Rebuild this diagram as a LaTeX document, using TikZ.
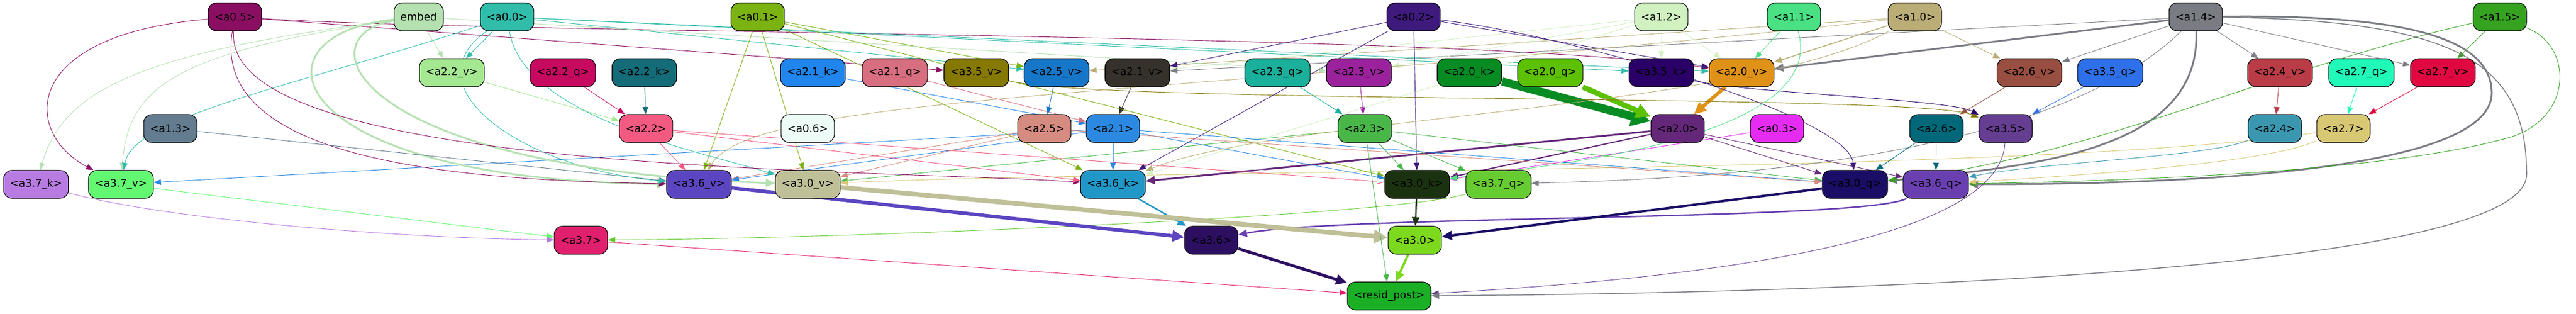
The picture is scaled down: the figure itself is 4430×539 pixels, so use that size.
\documentclass[tikz,border=0pt]{standalone}
\usepackage{fontspec}
\setmainfont{DejaVu Sans}
\usetikzlibrary{arrows.meta,backgrounds}

\definecolor{ca05}{HTML}{8A0F62}
\definecolor{cembed}{HTML}{B5E1B1}
\definecolor{ca00}{HTML}{30BEAB}
\definecolor{ca01}{HTML}{7BB313}
\definecolor{ca02}{HTML}{3F1A7D}
\definecolor{ca12}{HTML}{D1F1C1}
\definecolor{ca11}{HTML}{49E183}
\definecolor{ca10}{HTML}{BBAD76}
\definecolor{ca14}{HTML}{7A7C84}
\definecolor{ca15}{HTML}{35A320}
\definecolor{ca22v}{HTML}{A4E891}
\definecolor{ca22q}{HTML}{C70A60}
\definecolor{ca22k}{HTML}{146C79}
\definecolor{ca21k}{HTML}{2185EE}
\definecolor{ca21q}{HTML}{D86F80}
\definecolor{ca35v}{HTML}{857902}
\definecolor{ca25v}{HTML}{1677C8}
\definecolor{ca21v}{HTML}{36312A}
\definecolor{ca23q}{HTML}{1AB09C}
\definecolor{ca23v}{HTML}{9B229C}
\definecolor{ca20k}{HTML}{068C23}
\definecolor{ca20q}{HTML}{5BC102}
\definecolor{ca35k}{HTML}{2A0068}
\definecolor{ca20v}{HTML}{DF9217}
\definecolor{ca26v}{HTML}{984E40}
\definecolor{ca35q}{HTML}{2E70E9}
\definecolor{ca24v}{HTML}{B93C46}
\definecolor{ca27q}{HTML}{21F9B9}
\definecolor{ca27v}{HTML}{E10841}
\definecolor{ca13}{HTML}{637C8F}
\definecolor{ca22}{HTML}{F35A82}
\definecolor{ca06}{HTML}{EEFCF8}
\definecolor{ca25}{HTML}{D68B80}
\definecolor{ca21}{HTML}{2B89E1}
\definecolor{ca23}{HTML}{48B748}
\definecolor{ca20}{HTML}{642779}
\definecolor{ca03}{HTML}{E62CF2}
\definecolor{ca26}{HTML}{006879}
\definecolor{ca35}{HTML}{653D91}
\definecolor{ca24}{HTML}{3B97B0}
\definecolor{ca27}{HTML}{D8C873}
\definecolor{ca37k}{HTML}{B87BE1}
\definecolor{ca37v}{HTML}{63F872}
\definecolor{ca36v}{HTML}{5C45C1}
\definecolor{ca30v}{HTML}{BFBF98}
\definecolor{ca36k}{HTML}{2197C8}
\definecolor{ca30k}{HTML}{1B3210}
\definecolor{ca37q}{HTML}{67CC31}
\definecolor{ca30q}{HTML}{190D66}
\definecolor{ca36q}{HTML}{6A40B1}
\definecolor{ca37}{HTML}{E1206D}
\definecolor{ca36}{HTML}{2D0F62}
\definecolor{ca30}{HTML}{7CD91D}
\definecolor{cresid}{HTML}{1AAF25}

\begin{document}
\begin{tikzpicture}[x=1pt, y=-1pt,
    headbox/.style={draw=black, line width=1.1pt, rounded corners=14pt,
      minimum height=48pt, inner xsep=11pt, text=black,
      font=\fontsize{18}{20}\selectfont},
    wire/.style={line width=0.9pt, -{Triangle[length=11pt 1.6, width=8pt 1.8]}}]
    \useasboundingbox (0,0) rectangle (4430,539);

    \draw
    (404, 29) node[headbox, fill=ca05](a05){<a0.5>}
    (720, 29) node[headbox, fill=cembed](embed){embed}
    (872, 29) node[headbox, fill=ca00](a00){<a0.0>}
    (1303, 29) node[headbox, fill=ca01](a01){<a0.1>}
    (2431, 29) node[headbox, fill=ca02](a02){<a0.2>}
    (2857, 29) node[headbox, fill=ca12](a12){<a1.2>}
    (3085, 29) node[headbox, fill=ca11](a11){<a1.1>}
    (3293, 29) node[headbox, fill=ca10](a10){<a1.0>}
    (3776, 29) node[headbox, fill=ca14](a14){<a1.4>}
    (4299, 29) node[headbox, fill=ca15](a15){<a1.5>}

    (777, 125) node[headbox, fill=ca22v](a22v){<a2.2\_v>}
    (968, 125) node[headbox, fill=ca22q](a22q){<a2.2\_q>}
    (1108, 125) node[headbox, fill=ca22k](a22k){<a2.2\_k>}
    (1398, 125) node[headbox, fill=ca21k](a21k){<a2.1\_k>}
    (1539, 125) node[headbox, fill=ca21q](a21q){<a2.1\_q>}
    (1679, 125) node[headbox, fill=ca35v](a35v){<a3.5\_v>}
    (1817, 125) node[headbox, fill=ca25v](a25v){<a2.5\_v>}
    (1956, 125) node[headbox, fill=ca21v](a21v){<a2.1\_v>}
    (2197, 125) node[headbox, fill=ca23q](a23q){<a2.3\_q>}
    (2337, 125) node[headbox, fill=ca23v](a23v){<a2.3\_v>}
    (2527, 125) node[headbox, fill=ca20k](a20k){<a2.0\_k>}
    (2666, 125) node[headbox, fill=ca20q](a20q){<a2.0\_q>}
    (2857, 125) node[headbox, fill=ca35k](a35k){<a3.5\_k>}
    (2995, 125) node[headbox, fill=ca20v](a20v){<a2.0\_v>}
    (3490, 125) node[headbox, fill=ca26v](a26v){<a2.6\_v>}
    (3629, 125) node[headbox, fill=ca35q](a35q){<a3.5\_q>}
    (3921, 125) node[headbox, fill=ca24v](a24v){<a2.4\_v>}
    (4061, 125) node[headbox, fill=ca27q](a27q){<a2.7\_q>}
    (4201, 125) node[headbox, fill=ca27v](a27v){<a2.7\_v>}

    (293, 221) node[headbox, fill=ca13](a13){<a1.3>}
    (1111, 221) node[headbox, fill=ca22](a22){<a2.2>}
    (1389, 221) node[headbox, fill=ca06](a06){<a0.6>}
    (1796, 221) node[headbox, fill=ca25](a25){<a2.5>}
    (1914, 221) node[headbox, fill=ca21](a21){<a2.1>}
    (2347, 221) node[headbox, fill=ca23](a23){<a2.3>}
    (2885, 221) node[headbox, fill=ca20](a20){<a2.0>}
    (3056, 221) node[headbox, fill=ca03](a03){<a0.3>}
    (3330, 221) node[headbox, fill=ca26](a26){<a2.6>}
    (3449, 221) node[headbox, fill=ca35](a35){<a3.5>}
    (3912, 221) node[headbox, fill=ca24](a24){<a2.4>}
    (4030, 221) node[headbox, fill=ca27](a27){<a2.7>}

    (62, 317) node[headbox, fill=ca37k](a37k){<a3.7\_k>}
    (208, 317) node[headbox, fill=ca37v](a37v){<a3.7\_v>}
    (1202, 317) node[headbox, fill=ca36v](a36v){<a3.6\_v>}
    (1389, 317) node[headbox, fill=ca30v](a30v){<a3.0\_v>}
    (1914, 317) node[headbox, fill=ca36k](a36k){<a3.6\_k>}
    (2437, 317) node[headbox, fill=ca30k](a30k){<a3.0\_k>}
    (2577, 317) node[headbox, fill=ca37q](a37q){<a3.7\_q>}
    (3190, 317) node[headbox, fill=ca30q](a30q){<a3.0\_q>}
    (3329, 317) node[headbox, fill=ca36q](a36q){<a3.6\_q>}

    (999, 413) node[headbox, fill=ca37](a37){<a3.7>}
    (2083, 413) node[headbox, fill=ca36](a36){<a3.6>}
    (2433, 413) node[headbox, fill=ca30](a30){<a3.0>}

    (2389, 509) node[headbox, fill=cresid](resid){<resid\_post>};

    \begin{pgfonlayer}{background}
    % first row into second row
    \draw[wire, cembed] (embed) -- (a22v);
    \draw[wire, ca00] (a00) -- (a22v);
    \draw[wire, ca05] (a05) -- (a35v);
    \draw[wire, ca05] (a05) .. controls (900,60) and (2500,55) .. (a20v);
    \draw[wire, ca00] (a00) -- (a25v);
    \draw[wire, ca01] (a01) -- (a25v);
    \draw[wire, ca10] (a10) -- (a25v);
    \draw[wire, ca12] (a12) -- (a21v);
    \draw[wire, ca02] (a02) -- (a21v);
    \draw[wire, ca14] (a14) -- (a21v);
    \draw[wire, cembed] (embed) -- (a23v);
    \draw[wire, ca12] (a12) -- (a23v);
    \draw[wire, ca00] (a00) -- (a35k);
    \draw[wire, ca12] (a12) -- (a35k);
    \draw[wire, ca00] (a00) -- (a20v);
    \draw[wire, ca02] (a02) -- (a20v);
    \draw[wire, ca12] (a12) -- (a20v);
    \draw[wire, ca11] (a11) -- (a20v);
    \draw[wire, ca10, line width=1.5pt] (a10) -- (a20v);
    \draw[wire, ca14, line width=3pt] (a14) -- (a20v);
    \draw[wire, ca10] (a10) -- (a26v);
    \draw[wire, ca14] (a14) -- (a26v);
    \draw[wire, ca14] (a14) -- (a24v);
    \draw[wire, ca14] (a14) -- (a27v);
    \draw[wire, ca15] (a15) -- (a27v);

    % second row into heads of layer 2
    \draw[wire, ca22v] (a22v) -- (a22);
    \draw[wire, ca22q] (a22q) -- (a22);
    \draw[wire, ca22k] (a22k) -- (a22);
    \draw[wire, ca21k] (a21k) -- (a21);
    \draw[wire, ca21q] (a21q) -- (a21);
    \draw[wire, ca21v] (a21v) -- (a21);
    \draw[wire, ca25v] (a25v) -- (a25);
    \draw[wire, ca23q] (a23q) -- (a23);
    \draw[wire, ca23v] (a23v) -- (a23);
    \draw[wire, ca20k, line width=14pt] (a20k) -- (a20);
    \draw[wire, ca20q, line width=9pt] (a20q) -- (a20);
    \draw[wire, ca20v, line width=6pt] (a20v) -- (a20);
    \draw[wire, ca26v] (a26v) -- (a26);
    \draw[wire, ca35v] (a35v) .. controls (1900,180) and (3300,160) .. (a35);
    \draw[wire, ca35q] (a35q) -- (a35);
    \draw[wire, ca35k] (a35k) .. controls (3000,160) and (3350,170) .. (a35);
    \draw[wire, ca24v] (a24v) -- (a24);
    \draw[wire, ca27q] (a27q) -- (a27);
    \draw[wire, ca27v] (a27v) -- (a27);

    % into inputs of layer 3
    \draw[wire, cembed] (embed) .. controls (250,90) and (110,150) .. (a37k);
    \draw[wire, cembed] (embed) .. controls (300,90) and (220,150) .. (a37v);
    \draw[wire, ca05] (a05) .. controls (30,60) and (40,230) .. (a37v);
    \draw[wire, ca00] (a00) .. controls (500,150) and (230,200) .. (a37v);
    \draw[wire, ca21] (a21) -- (a37v);
    \draw[wire, cembed, line width=3pt] (embed) .. controls (420,60) and (480,310) .. (a36v);
    \draw[wire, ca05] (a05) .. controls (360,280) and (800,310) .. (a36v);
    \draw[wire, ca13] (a13) -- (a36v);
    \draw[wire, ca00] (a00) .. controls (700,150) and (900,290) .. (a36v);
    \draw[wire, ca22] (a22) -- (a36v);
    \draw[wire, ca01] (a01) -- (a36v);
    \draw[wire, ca10] (a10) .. controls (2000,170) and (1300,160) .. (a36v);
    \draw[wire, ca25] (a25) -- (a36v);
    \draw[wire, ca21] (a21) -- (a36v);
    \draw[wire, cembed, line width=3pt] (embed) .. controls (520,60) and (600,290) .. (a30v);
    \draw[wire, ca00] (a00) .. controls (900,200) and (1200,260) .. (a30v);
    \draw[wire, ca01] (a01) -- (a30v);
    \draw[wire, ca06] (a06) -- (a30v);
    \draw[wire, ca25] (a25) -- (a30v);
    \draw[wire, ca23] (a23) -- (a30v);
    \draw[wire, ca27] (a27) .. controls (3500,300) and (2000,290) .. (a30v);
    \draw[wire, ca21] (a21) -- (a36k);
    \draw[wire, ca02] (a02) -- (a36k);
    \draw[wire, ca10] (a10) .. controls (3000,190) and (2200,200) .. (a36k);
    \draw[wire, ca01] (a01) -- (a36k);
    \draw[wire, ca05] (a05) .. controls (380,300) and (1500,290) .. (a36k);
    \draw[wire, ca22] (a22) -- (a36k);
    \draw[wire, ca12] (a12) -- (a36k);
    \draw[wire, ca20, line width=3pt] (a20) -- (a36k);
    \draw[wire, ca01] (a01) -- (a30k);
    \draw[wire, ca23] (a23) -- (a30k);
    \draw[wire, ca02] (a02) -- (a30k);
    \draw[wire, ca03] (a03) -- (a30k);
    \draw[wire, ca21] (a21) -- (a30k);
    \draw[wire, ca22] (a22) -- (a30k);
    \draw[wire, ca06] (a06) -- (a30k);
    \draw[wire, ca20, line width=2pt] (a20) -- (a30k);
    \draw[wire, ca11] (a11) .. controls (3150,250) and (2600,290) .. (a30k);
    \draw[wire, ca23] (a23) -- (a37q);
    \draw[wire, ca14] (a14) .. controls (3500,300) and (2800,310) .. (a37q);
    \draw[wire, ca02] (a02) .. controls (2700,60) and (3180,200) .. (a30q);
    \draw[wire, ca26] (a26) -- (a30q);
    \draw[wire, ca20] (a20) -- (a30q);
    \draw[wire, ca23] (a23) -- (a30q);
    \draw[wire, ca21] (a21) -- (a30q);
    \draw[wire, ca25] (a25) -- (a30q);
    \draw[wire, ca14, line width=3pt] (a14) .. controls (3785,260) and (3500,285) .. (a30q);
    \draw[wire, ca15] (a15) .. controls (3900,120) and (3600,270) .. (a30q);
    \draw[wire, ca26] (a26) -- (a36q);
    \draw[wire, ca20] (a20) -- (a36q);
    \draw[wire, ca24] (a24) .. controls (3800,270) and (3500,280) .. (a36q);
    \draw[wire, ca14, line width=3pt] (a14) .. controls (4120,25) and (4285,60) .. (4285,160)
      .. controls (4285,290) and (3800,317) .. (a36q);
    \draw[wire, ca15] (a15) .. controls (4425,80) and (4425,200) .. (4320,235)
      .. controls (4100,300) and (3600,312) .. (a36q);
    \draw[wire, ca27] (a27) .. controls (3900,280) and (3600,300) .. (a36q);

    % inputs of layer 3 into heads
    \draw[wire, ca37v] (a37v) -- (a37);
    \draw[wire, ca37k] (a37k) .. controls (300,380) and (700,410) .. (a37);
    \draw[wire, ca37q] (a37q) .. controls (2400,370) and (1500,410) .. (a37);
    \draw[wire, ca36v, line width=6pt] (a36v) -- (a36);
    \draw[wire, ca36k, line width=2.5pt] (a36k) -- (a36);
    \draw[wire, ca36q, line width=2.5pt] (a36q) .. controls (3200,380) and (2300,370) .. (a36);
    \draw[wire, ca30v, line width=8pt] (a30v) -- (a30);
    \draw[wire, ca30k, line width=2.5pt] (a30k) -- (a30);
    \draw[wire, ca30q, line width=4pt] (a30q) -- (a30);

    % heads into resid_post
    \draw[wire, ca36, line width=5pt] (a36) -- (resid);
    \draw[wire, ca30, line width=4pt] (a30) -- (resid);
    \draw[wire, ca37] (a37) -- (resid);
    \draw[wire, ca23] (a23) -- (resid);
    \draw[wire, ca35] (a35) .. controls (3440,420) and (2900,480) .. (resid);
    \draw[wire, ca14, line width=1.5pt] (a14) .. controls (4230,35) and (4345,110) .. (4345,300)
      .. controls (4345,470) and (3100,505) .. (resid);
    \end{pgfonlayer}
\end{tikzpicture}
\end{document}
